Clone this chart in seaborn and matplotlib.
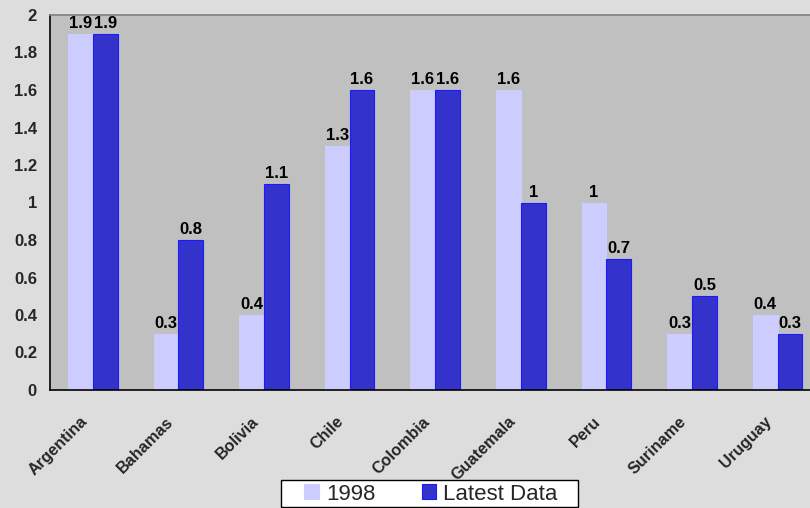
import matplotlib
matplotlib.use("Agg")
import matplotlib.pyplot as plt
from matplotlib.patches import Patch, Rectangle
import seaborn as sns
import pandas as pd

countries = ["Argentina", "Bahamas", "Bolivia", "Chile", "Colombia",
             "Guatemala", "Peru", "Suriname", "Uruguay"]
v1998 = [1.9, 0.3, 0.4, 1.3, 1.6, 1.6, 1, 0.3, 0.4]
vlatest = [1.9, 0.8, 1.1, 1.6, 1.6, 1, 0.7, 0.5, 0.3]
series = ["1998", "Latest Data"]
yticks = [0, 0.2, 0.4, 0.6, 0.8, 1, 1.2, 1.4, 1.6, 1.8, 2]
yticklabels = ["0", "0.2", "0.4", "0.6", "0.8", "1", "1.2", "1.4", "1.6", "1.8", "2"]

df = pd.DataFrame({
    "country": countries * 2,
    "value": v1998 + vlatest,
    "series": [series[0]] * len(countries) + [series[1]] * len(countries),
})

sns.set_style("white")
plt.rcParams['font.family'] = ['Liberation Sans', 'DejaVu Sans']

W, H = 810, 508
fig = plt.figure(figsize=(W / 100, H / 100), dpi=100, facecolor="#DDDDDD")
ax = fig.add_axes([50 / W, 1 - 390 / H, 1 - 50 / W, (390 - 15) / H])
ax.set_facecolor("#C0C0C0")

light, dark, dark_edge = "#CCCCFF", "#3333CC", "#1A1AFF"
colors = {series[0]: light, series[1]: dark}
sns.barplot(data=df, x="country", y="value", hue="series", palette=colors,
            width=0.58, gap=0, ax=ax, saturation=1, legend=False, errorbar=None)

for i, (cont, lab) in enumerate(zip(ax.containers, [v1998, vlatest])):
    for p in cont:
        p.set_edgecolor(light if i == 0 else dark_edge)
        p.set_linewidth(0.8)
    ax.bar_label(cont, labels=[("%g" % v) for v in lab], padding=2,
                 fontsize=12, fontweight="bold", color="black")

cat_px = 85.6
ax.set_ylim(0, 2)
ax.set_xlim(-0.5, -0.5 + 760 / cat_px)
ax.set_yticks(yticks)
ax.set_yticklabels(yticklabels, fontsize=12, fontweight="bold")
# label anchors slightly left of the category centre (Excel-style rotated labels)
ax.set_xticks([i - 8 / cat_px for i in range(len(countries))])
ax.set_xticklabels(countries, rotation=45, ha="right", va="center",
                   rotation_mode="anchor", fontsize=11.7, fontweight="bold")
ax.set_xticks([i + 0.5 for i in range(len(countries) - 1)], minor=True)
ax.tick_params(axis="x", which="major", length=0, pad=21)
ax.tick_params(axis="x", which="minor", length=3.6, width=1, color="black", direction="out")
ax.tick_params(axis="y", length=3.6, width=1, color="black", direction="out", pad=5.8)
ax.set_xlabel("")
ax.set_ylabel("")

for s in ["left", "bottom"]:
    ax.spines[s].set_color("black")
    ax.spines[s].set_linewidth(1.2)
ax.spines["top"].set_color("#808080")
ax.spines["top"].set_linewidth(1.2)
ax.spines["right"].set_visible(False)

# legend box
fig.patches.append(Rectangle((281 / W, 1 - 507 / H), (578 - 281) / W, (507 - 480) / H,
                             transform=fig.transFigure, facecolor="white",
                             edgecolor="black", linewidth=1.0, zorder=5))
handles = [Patch(facecolor=light, edgecolor=light, linewidth=0.8),
           Patch(facecolor=dark, edgecolor=dark_edge, linewidth=0.8)]
leg = fig.legend(handles, series, loc="center",
                 bbox_to_anchor=(431 / W, 1 - 494 / H),
                 bbox_transform=fig.transFigure, ncol=2, frameon=False,
                 fontsize=16, handlelength=0.64, handleheight=0.64,
                 columnspacing=2.1, handletextpad=0.32, borderpad=0,
                 borderaxespad=0)
leg.set_zorder(6)

fig.savefig("out.png", dpi=100, facecolor=fig.get_facecolor())
